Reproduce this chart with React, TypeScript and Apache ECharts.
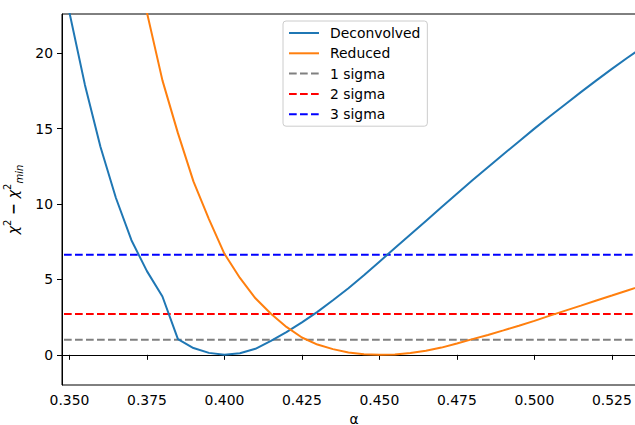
import React, { useEffect, useRef } from "react";
import * as echarts from "echarts";

const alpha = [
  0.345, 0.35, 0.355, 0.36, 0.365, 0.37, 0.375, 0.38, 0.385, 0.39, 0.395, 0.4,
  0.405, 0.41, 0.415, 0.42, 0.425, 0.43, 0.435, 0.44, 0.445, 0.45, 0.455, 0.46,
  0.465, 0.47, 0.475, 0.48, 0.485, 0.49, 0.495, 0.5, 0.505, 0.51, 0.515, 0.52,
  0.525, 0.53, 0.535,
];

const deconvolved = [
  28.2, 22.7, 17.9, 13.8, 10.4, 7.6, 5.55, 3.87, 1.04, 0.45, 0.13, 0.0,
  0.1, 0.4, 0.92, 1.5, 2.15, 2.85, 3.62, 4.42, 5.28, 6.18, 7.08, 7.98,
  8.88, 9.78, 10.68, 11.57, 12.44, 13.3, 14.15, 15.0, 15.82, 16.62, 17.42, 18.2,
  18.96, 19.7, 20.42,
];

const reduced = [
  52.0, 44.0, 38.0, 33.0, 36.0, 28.5, 22.7, 18.2, 14.7, 11.5, 9.0, 6.7,
  5.1, 3.75, 2.72, 1.85, 1.15, 0.68, 0.38, 0.16, 0.04, 0.0, 0.03, 0.12,
  0.27, 0.48, 0.75, 1.04, 1.32, 1.62, 1.93, 2.25, 2.6, 2.93, 3.26, 3.6,
  3.93, 4.27, 4.6,
];

const sigmaNames = ["1 sigma", "2 sigma", "3 sigma"];
const sigmaLevels = [1.0, 2.71, 6.63];
const sigmaColors = ["#808080", "#ff0000", "#0000ff"];

const xTicks = [0.35, 0.375, 0.4, 0.425, 0.45, 0.475, 0.5, 0.525];
const yTicks = [0, 5, 10, 15, 20];

const X_MIN = 0.3476;
const X_MAX = 0.536;
const Y_MIN = -2;
const Y_MAX = 22.6;

const FONT = "DejaVu Sans";

export default function App() {
  const ref = useRef<HTMLDivElement>(null);

  useEffect(() => {
    if (!ref.current) return;
    const chart = echarts.init(ref.current, null, { renderer: "svg" });

    const pairs = (ys: number[]) =>
      alpha.map((x, i) => [x, ys[i]]).filter((p) => p[0] <= X_MAX + 0.01);

    const sigmaSeries = sigmaLevels.map((lvl, i) => ({
      name: sigmaNames[i],
      type: "line",
      data: [
        [X_MIN - 0.01, lvl],
        [X_MAX + 0.01, lvl],
      ],
      symbol: "none",
      lineStyle: { color: sigmaColors[i], width: 2, type: [7.7, 3.3] },
      itemStyle: { color: sigmaColors[i] },
      z: 2,
    }));

    chart.setOption({
      animation: false,
      backgroundColor: "#ffffff",
      grid: {
        left: 62,
        right: -11,
        top: 14,
        bottom: 40,
        outerBoundsMode: "none",
        containLabel: false,
        show: true,
        borderColor: "#000",
        borderWidth: 1,
        backgroundColor: "transparent",
      },
      legend: {
        orient: "vertical",
        left: 283,
        top: 21,
        padding: [5, 7, 5, 5],
        itemGap: 6.3,
        itemWidth: 30,
        itemHeight: 14,
        backgroundColor: "rgba(255,255,255,0.8)",
        borderColor: "#cccccc",
        borderWidth: 1,
        borderRadius: 3,
        itemStyle: { color: "transparent", borderWidth: 0, opacity: 0 },
        textStyle: {
          fontFamily: FONT,
          fontSize: 13.9,
          color: "#000",
          padding: [0, 0, 0, 6],
        },
        data: ["Deconvolved", "Reduced", ...sigmaNames],
      },
      xAxis: {
        type: "value",
        min: X_MIN,
        max: X_MAX,
        name: "α",
        nameLocation: "middle",
        nameGap: 26,
        nameTextStyle: { fontFamily: FONT, fontSize: 13.9, color: "#000" },
        axisLine: { show: true, lineStyle: { color: "#000", width: 1 } },
        axisTick: {
          show: true,
          length: 5,
          lineStyle: { color: "#000", width: 1 },
          customValues: xTicks,
        },
        axisLabel: {
          customValues: xTicks,
          formatter: (v: number) => v.toFixed(3),
          fontFamily: FONT,
          fontSize: 13.9,
          color: "#000",
          margin: 8,
        },
        splitLine: { show: false },
      },
      yAxis: {
        type: "value",
        min: Y_MIN,
        max: Y_MAX,
        name: "{m|χ}{sup|2}{n| − }{m|χ}{sup|2}{sub|min}",
        nameLocation: "middle",
        nameRotate: 90,
        nameGap: 30,
        nameTextStyle: {
          fontFamily: FONT,
          fontSize: 14,
          color: "#000",
          rich: {
            m: { fontFamily: FONT, fontSize: 14, fontStyle: "italic", lineHeight: 22, verticalAlign: "middle" },
            n: { fontFamily: FONT, fontSize: 14, fontWeight: "bold", lineHeight: 22, verticalAlign: "middle" },
            sup: { fontFamily: FONT, fontSize: 10, lineHeight: 12, verticalAlign: "top" },
            sub: { fontFamily: FONT, fontSize: 10, fontStyle: "italic", lineHeight: 12, verticalAlign: "bottom" },
          },
        },
        axisLine: { show: true, lineStyle: { color: "#000", width: 1 } },
        axisTick: {
          show: true,
          length: 5,
          lineStyle: { color: "#000", width: 1 },
          customValues: yTicks,
        },
        axisLabel: {
          customValues: yTicks,
          fontFamily: FONT,
          fontSize: 13.9,
          color: "#000",
          margin: 9,
        },
        splitLine: { show: false },
      },
      series: [
        {
          name: "Deconvolved",
          type: "line",
          data: pairs(deconvolved),
          symbol: "none",
          clip: true,
          lineStyle: { color: "#1f77b4", width: 2 },
          itemStyle: { color: "#1f77b4" },
          z: 3,
        },
        {
          name: "Reduced",
          type: "line",
          data: pairs(reduced),
          symbol: "none",
          clip: true,
          lineStyle: { color: "#ff7f0e", width: 2 },
          itemStyle: { color: "#ff7f0e" },
          z: 3,
        },
        ...sigmaSeries,
      ],
    });

    return () => chart.dispose();
  }, []);

  return <div ref={ref} style={{ width: 635, height: 425, position: "absolute", left: 0, top: 0 }} />;
}
